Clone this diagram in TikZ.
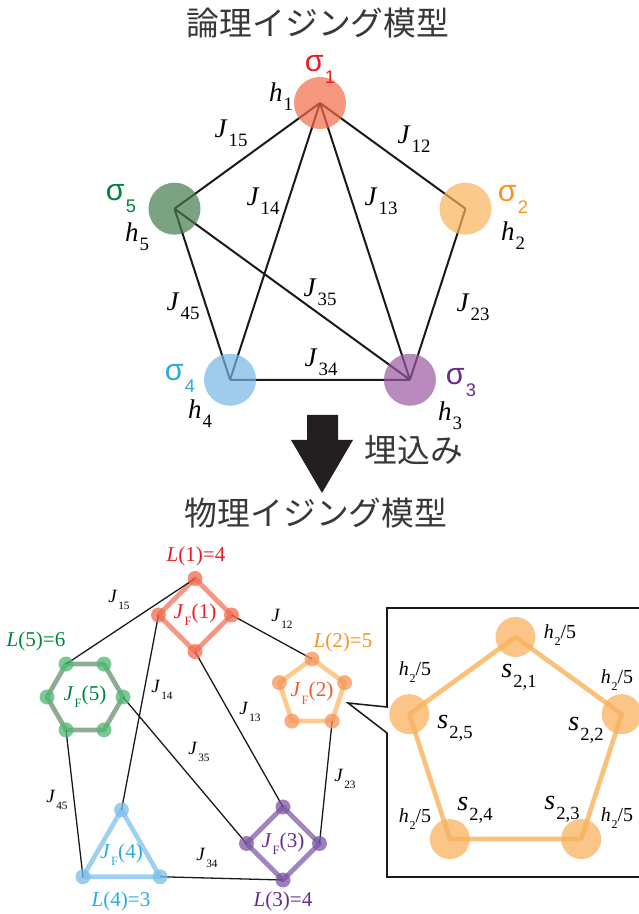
\documentclass[tikz,border=0pt]{standalone}
\usepackage{fontspec}
\setmainfont{Liberation Serif}
\newfontfamily\jafont{Noto Sans CJK JP}
\newfontfamily\grkfont{Liberation Sans}
\usetikzlibrary{arrows.meta,positioning,calc}
\pgfdeclarelayer{background}
\pgfsetlayers{background,main}
\definecolor{sred}{HTML}{ED1C24}
\definecolor{sorange}{HTML}{F7941D}
\definecolor{spurple}{HTML}{662D91}
\definecolor{scyan}{HTML}{29ABE2}
\definecolor{sgreen}{HTML}{00843D}
\definecolor{fill1}{HTML}{F26B4A}
\definecolor{fill2}{HTML}{F9B258}
\definecolor{fill3}{HTML}{9A59A2}
\definecolor{fill4}{HTML}{76B5E4}
\definecolor{fill5}{HTML}{457C4C}
% rings of the physical model
\definecolor{edge1}{HTML}{F4846A}
\definecolor{edge2}{HTML}{FBC07A}
\definecolor{edge3}{HTML}{8E6FB3}
\definecolor{edge4}{HTML}{8DC8EE}
\definecolor{edge5}{HTML}{7A9E7E}
\definecolor{dot1}{HTML}{F16A4E}
\definecolor{dot2}{HTML}{F7945A}
\definecolor{dot3}{HTML}{7C55A4}
\definecolor{dot4}{HTML}{7ABDE8}
\definecolor{dot5}{HTML}{4DB872}
\colorlet{jf1}{sred}
\definecolor{jf2}{HTML}{F15A29}
\colorlet{jf3}{spurple}
\colorlet{jf4}{scyan}
\colorlet{jf5}{sgreen}
\definecolor{arrowk}{HTML}{231F20}
\definecolor{insetc}{HTML}{F8B25E}
\definecolor{insetr}{HTML}{F9B664}
\newcommand{\ssub}[3][.7]{#2\kern.04em\raisebox{-.75ex}{\scalebox{#1}{#3}}}
\tikzset{
  spin/.style={circle, fill=#1, fill opacity=.7, minimum size=1.56cm, inner sep=0pt},
  site/.style={circle, fill=#1, fill opacity=.75, minimum size=.45cm, inner sep=0pt},
  bigsite/.style={circle, fill=insetc, fill opacity=.75, minimum size=1.2cm, inner sep=0pt},
  bond/.style={line width=1.7pt, draw=black!90},
  coupling/.style={line width=1.1pt, draw=black!90},
  ring/.style={line width=4pt, draw=#1, line join=round, opacity=.85},
  toplab/.style={font=\fontsize{23}{25}\selectfont, inner sep=0pt},
  spinlab/.style={text=#1, font=\fontsize{26}{28}\grkfont, inner sep=0pt},
  botlab/.style={font=\fontsize{16}{18}\selectfont, inner sep=0pt},
  llab/.style={text=#1, font=\fontsize{18}{20}\selectfont, inner sep=0pt},
  jflab/.style={text=#1, font=\fontsize{18}{20}\selectfont, inner sep=0pt},
  slab/.style={font=\fontsize{24}{26}\selectfont, inner sep=0pt},
  hlab/.style={font=\fontsize{17}{19}\selectfont, inner sep=0pt},
  title/.style={font=\fontsize{28}{32}\jafont, text=black!78, inner sep=0pt},
  inset/.style={line width=1.3pt, draw=black!90},
}

\begin{document}
\begin{tikzpicture}[x=0.03cm, y=0.03cm]
  \useasboundingbox (0,0) rectangle (639,914);
  % logical model
  \node[title] (ttl1) at (318,891) {論理イジング模型};
  \begin{scope}[shift={(320,658)}]
    \foreach \i/\a in {1/90,2/18,3/-54,4/-126,5/162}
      \node[spin=fill\i] (sp\i) at (\a:153) {};
  \end{scope}
  \begin{pgfonlayer}{background}
    \draw[bond] (sp1.center) -- (sp5.center) (sp1.center) -- (sp2.center)
      (sp1.center) -- (sp4.center) (sp1.center) -- (sp3.center)
      (sp5.center) -- (sp4.center) (sp5.center) -- (sp3.center)
      (sp2.center) -- (sp3.center) (sp4.center) -- (sp3.center);
  \end{pgfonlayer}
  \node[spinlab=sred] (sg1) at (320,845) {\ssub[.6]{σ}{1}};
  \node[spinlab=sorange] (sg2) at (513,715) {\ssub[.6]{σ}{2}};
  \node[spinlab=spurple] (sg3) at (461,531) {\ssub[.6]{σ}{3}};
  \node[spinlab=scyan] (sg4) at (180,536) {\ssub[.6]{σ}{4}};
  \node[spinlab=sgreen] (sg5) at (121,715) {\ssub[.6]{σ}{5}};
  \node[toplab] (h1) at (281,817) {\ssub{\textit{h}}{1}};
  \node[toplab] (h2) at (513,678) {\ssub{\textit{h}}{2}};
  \node[toplab] (h3) at (450,498) {\ssub{\textit{h}}{3}};
  \node[toplab] (h4) at (200,500) {\ssub{\textit{h}}{4}};
  \node[toplab] (h5) at (137,677) {\ssub{\textit{h}}{5}};
  \node[toplab] (j15) at (231,781) {\ssub{\textit{J}}{15}};
  \node[toplab] (j12) at (414,775) {\ssub{\textit{J}}{12}};
  \node[toplab] (j14) at (263,713) {\ssub{\textit{J}}{14}};
  \node[toplab] (j13) at (381,713) {\ssub{\textit{J}}{13}};
  \node[toplab] (j45) at (183,608) {\ssub{\textit{J}}{45}};
  \node[toplab] (j35) at (320,622) {\ssub{\textit{J}}{35}};
  \node[toplab] (j23) at (473,607) {\ssub{\textit{J}}{23}};
  \node[toplab] (j34) at (321,552) {\ssub{\textit{J}}{34}};

  % embedding
  \fill[arrowk] (307,499) -- (338,499) -- (338,474) -- (353,474) -- (322,421)
    -- (291,474) -- (307,474) -- cycle;
  \node[title] (emb) at (414,464) {埋込み};
  \node[title] (ttl2) at (316,401) {物理イジング模型};

  % physical model
  \foreach \k/\nv/\cx/\cy/\r/\a in {1/4/195/299/36.5/90, 2/5/312/220.7/34.3/90,
      3/4/283/70.5/36.5/90, 4/3/121.5/59.5/44.5/90, 5/6/85/217/38/0}{
    \foreach \j in {1,...,\nv}
      \node[site=dot\k] (v\k-\j) at ($(\cx,\cy)+({\a+360*(\j-1)/\nv}:\r)$) {};
    \node[jflab=jf\k] (jf\k) at (\cx,\cy) {\ssub[.6]{\textit{J}}{F}(\k)};
  }
  \begin{pgfonlayer}{background}
    \foreach \k/\nv in {1/4,2/5,3/4,4/3,5/6}
      \draw[ring=edge\k] (v\k-1.center) \foreach \j in {2,...,\nv}{ -- (v\k-\j.center)} -- cycle;
    \draw[coupling] (v1-1.center) -- (v5-3.center) (v1-4.center) -- (v2-1.center)
      (v1-2.center) -- (v4-1.center) (v1-3.center) -- (v3-1.center)
      (v5-1.center) -- (v3-2.center) (v5-5.center) -- (v4-2.center)
      (v2-4.center) -- (v3-4.center) (v4-3.center) -- (v3-3.center);
  \end{pgfonlayer}
  \node[llab=sred] (len1) at (196,358) {\textit{L}(1)=4};
  \node[llab=sorange] (len2) at (343,272) {\textit{L}(2)=5};
  \node[llab=spurple] (len3) at (283,13) {\textit{L}(3)=4};
  \node[llab=scyan] (len4) at (121,13) {\textit{L}(4)=3};
  \node[llab=sgreen] (len5) at (36,273) {\textit{L}(5)=6};
  \node[botlab] (k15) at (119,314) {\ssub[.6]{\textit{J}}{15}};
  \node[botlab] (k12) at (282,295) {\ssub[.6]{\textit{J}}{12}};
  \node[botlab] (k14) at (162,224) {\ssub[.6]{\textit{J}}{14}};
  \node[botlab] (k13) at (250,202) {\ssub[.6]{\textit{J}}{13}};
  \node[botlab] (k35) at (199,162) {\ssub[.6]{\textit{J}}{35}};
  \node[botlab] (k45) at (57,114) {\ssub[.6]{\textit{J}}{45}};
  \node[botlab] (k23) at (345,135) {\ssub[.6]{\textit{J}}{23}};
  \node[botlab] (k34) at (207,56) {\ssub[.6]{\textit{J}}{34}};

  % close-up of L(2)
  \draw[inset] (650,306) -- (387,306) -- (387,207) -- (348,211) -- (387,181)
    -- (387,37) -- (650,37);
  \begin{scope}[shift={(515.5,165.3)}]
    \foreach \j/\a in {1/90,2/18,3/-54,4/-126,5/162}
      \node[bigsite] (s\j) at (\a:111.7) {};
  \end{scope}
  \begin{pgfonlayer}{background}
    \draw[ring=insetr] (s1.center) -- (s2.center) -- (s3.center) -- (s4.center)
      -- (s5.center) -- cycle;
  \end{pgfonlayer}
  \node[slab] (ls1) at (519,237) {\ssub[.66]{\textit{s}}{2,1}};
  \node[slab] (ls2) at (586,184) {\ssub[.66]{\textit{s}}{2,2}};
  \node[slab] (ls3) at (562,105) {\ssub[.66]{\textit{s}}{2,3}};
  \node[slab] (ls4) at (475,104) {\ssub[.66]{\textit{s}}{2,4}};
  \node[slab] (ls5) at (455,186) {\ssub[.66]{\textit{s}}{2,5}};
  \node[hlab] (hs1) at (560,279) {\ssub[.6]{\textit{h}}{2}/5};
  \node[hlab] (hs2) at (617,234) {\ssub[.6]{\textit{h}}{2}/5};
  \node[hlab] (hs3) at (617,96) {\ssub[.6]{\textit{h}}{2}/5};
  \node[hlab] (hs4) at (415,95) {\ssub[.6]{\textit{h}}{2}/5};
  \node[hlab] (hs5) at (415,242) {\ssub[.6]{\textit{h}}{2}/5};
\end{tikzpicture}
\end{document}
